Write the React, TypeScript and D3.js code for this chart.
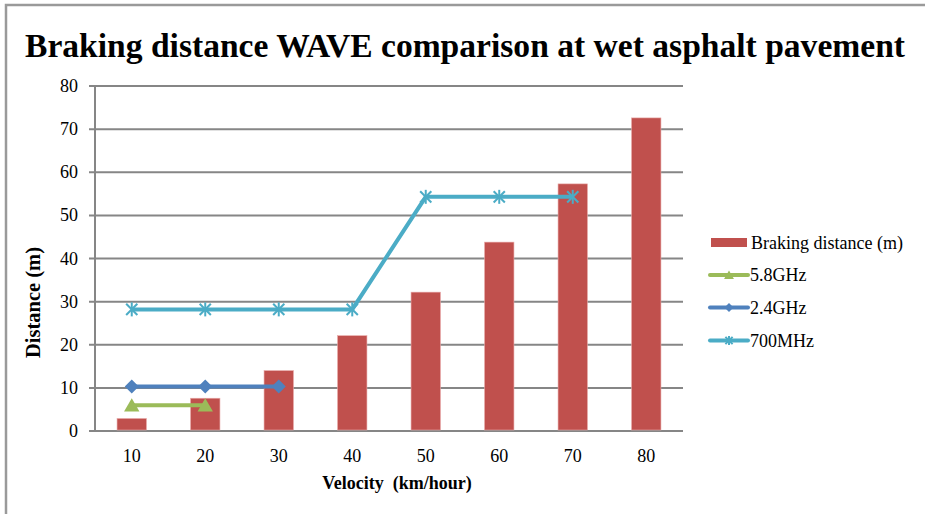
import React from "react";
import * as d3 from "d3";

const velocities = ["10", "20", "30", "40", "50", "60", "70", "80"];
const brakingDistance = [2.9, 7.6, 14.0, 22.1, 32.2, 43.8, 57.3, 72.6];
const wave58 = [6.0, 6.0];
const wave24 = [10.3, 10.3, 10.3];
const wave700 = [28.2, 28.2, 28.2, 28.2, 54.3, 54.3, 54.3];
const yTicks = [0, 10, 20, 30, 40, 50, 60, 70, 80];

const W = 925;
const H = 514;
const plot = { left: 95, right: 683, top: 86, bottom: 431 };
const GRID = "#868686";
const FONT = "'Liberation Serif', 'Times New Roman', Times, serif";

type Series = { name: string; values: number[]; color: string; marker: "triangle" | "diamond" | "star" };

const lineSeries: Series[] = [
  { name: "5.8GHz", values: wave58, color: "#9BBB59", marker: "triangle" },
  { name: "2.4GHz", values: wave24, color: "#4F81BD", marker: "diamond" },
  { name: "700MHz", values: wave700, color: "#4BACC6", marker: "star" },
];

function Marker({ kind, x, y, color, s }: { kind: string; x: number; y: number; color: string; s: number }) {
  if (kind === "triangle") {
    const p = d3.path();
    p.moveTo(x, y - s);
    p.lineTo(x + s * 1.1, y + s * 0.9);
    p.lineTo(x - s * 1.1, y + s * 0.9);
    p.closePath();
    return <path d={p.toString()} fill={color} />;
  }
  if (kind === "diamond") {
    const p = d3.path();
    p.moveTo(x, y - s);
    p.lineTo(x + s, y);
    p.lineTo(x, y + s);
    p.lineTo(x - s, y);
    p.closePath();
    return <path d={p.toString()} fill={color} />;
  }
  const d = s * 0.8;
  return (
    <g stroke={color} strokeWidth={2}>
      <line x1={x - d} y1={y - d} x2={x + d} y2={y + d} />
      <line x1={x - d} y1={y + d} x2={x + d} y2={y - d} />
      <line x1={x} y1={y - s} x2={x} y2={y + s} />
    </g>
  );
}

export default function App() {
  const x = d3.scaleBand<string>().domain(velocities).range([plot.left, plot.right]).paddingInner(0).paddingOuter(0);
  const y = d3.scaleLinear().domain([0, 80]).range([plot.bottom, plot.top]);
  const barW = x.bandwidth() * 0.4;
  const cx = (v: string) => (x(v) as number) + x.bandwidth() / 2;

  const line = d3
    .line<number>()
    .x((_, i) => cx(velocities[i]))
    .y((d) => y(d));

  const legendRows = [242.5, 275, 307.5, 340.5];

  return (
    <svg width={W} height={H} style={{ position: "absolute", left: 0, top: 0, background: "#fff" }} fontFamily={FONT}>
      {/* outer frame */}
      <path d={`M6,${H} L6,5 L${W},5`} fill="none" stroke="#9a9a9a" strokeWidth={2.5} />

      <text x={25} y={57} fontSize={34} fontWeight="bold" textLength={880} lengthAdjust="spacingAndGlyphs" fill="#000">
        Braking distance WAVE comparison at wet asphalt pavement
      </text>

      {/* grid lines and y ticks */}
      {yTicks.map((t) => (
        <g key={t}>
          <line x1={plot.left - 6} x2={plot.right} y1={y(t)} y2={y(t)} stroke={GRID} strokeWidth={2} />
          <text x={78} y={y(t) + 6} textAnchor="end" fontSize={18} fill="#000">
            {t}
          </text>
        </g>
      ))}
      <line x1={plot.left} x2={plot.left} y1={plot.top} y2={plot.bottom} stroke={GRID} strokeWidth={2} />

      {/* bars */}
      {brakingDistance.map((v, i) => (
        <rect
          key={i}
          x={cx(velocities[i]) - barW / 2}
          y={y(v)}
          width={barW}
          height={plot.bottom - y(v) - 1}
          fill="#C0504D"
          stroke="#e8a9a8"
          strokeWidth={0.6}
        />
      ))}

      {/* lines */}
      {lineSeries.map((s) => (
        <g key={s.name}>
          <path d={line(s.values) || ""} fill="none" stroke={s.color} strokeWidth={4} />
          {s.values.map((v, i) => (
            <Marker key={i} kind={s.marker} x={cx(velocities[i])} y={y(v)} color={s.color} s={7} />
          ))}
        </g>
      ))}

      {/* x tick labels */}
      {velocities.map((v) => (
        <text key={v} x={cx(v)} y={462} textAnchor="middle" fontSize={18} fill="#000">
          {v}
        </text>
      ))}

      <text x={397} y={489} textAnchor="middle" fontSize={18} fontWeight="bold" fill="#000" style={{ whiteSpace: "pre" }}>
        {"Velocity  (km/hour)"}
      </text>
      <text transform={`translate(40,302.5) rotate(-90)`} textAnchor="middle" fontSize={20.5} fontWeight="bold" fill="#000">
        Distance (m)
      </text>

      {/* legend */}
      <rect x={711} y={legendRows[0] - 4.5} width={36} height={9} fill="#C0504D" />
      <text x={751} y={legendRows[0] + 6} fontSize={18} fill="#000">
        Braking distance (m)
      </text>
      {lineSeries.map((s, i) => (
        <g key={s.name}>
          <line x1={710} x2={748} y1={legendRows[i + 1]} y2={legendRows[i + 1]} stroke={s.color} strokeWidth={4} strokeLinecap="round" />
          <Marker kind={s.marker} x={729} y={legendRows[i + 1]} color={s.color} s={4.5} />
          <text x={750} y={legendRows[i + 1] + 6} fontSize={18} fill="#000">
            {s.name}
          </text>
        </g>
      ))}
    </svg>
  );
}
